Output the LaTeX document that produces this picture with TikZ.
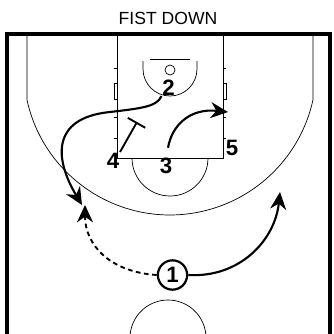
\documentclass[tikz,border=0pt]{standalone}
\usepackage{fontspec}
\setmainfont{Liberation Sans}
\usetikzlibrary{arrows.meta, positioning, calc}

\begin{document}
\begin{tikzpicture}[x=0.03cm, y=-0.03cm,
  >={Stealth[length=5.2mm, width=4.8mm, inset=1.7mm]},
  court/.style={line width=0.6pt},
  player/.style={font=\fontsize{19}{19}\selectfont\bfseries, inner sep=0.5pt},
  ballhandler/.style={player, circle, draw, fill=white, line width=1.9pt, minimum size=0.88cm},
  cut/.style={->, line width=1.8pt},
  pass/.style={->, line width=1.6pt, dash pattern=on 4pt off 3pt},
  screen/.style={-{Bar[width=6mm]}, line width=1.6pt}]
  \useasboundingbox (0,0) rectangle (333,334);
  % Title
  \node[font=\fontsize{15}{15}\selectfont] (title) at (168,18) {FIST DOWN};
  \begin{scope}
    \clip (0,0) rectangle (333,334);
    % Court boundary
    \draw[line width=2.8pt] (7,340) -- (7,34) -- (330,34) -- (330,340);
    % Three point line
    \draw[court] (27,34) -- (27,100) arc[start angle=167.6, end angle=12.4, radius=146.4] -- (313,34);
    % Lane and hash marks
    \draw[court] (117,34) -- (117,158) -- (223,158) -- (223,34);
    \foreach \y in {68,117,138}{
      \draw[court] (114,\y) -- (117,\y);
      \draw[court] (223,\y) -- (226,\y);
    }
    \draw[court] (114,83) rectangle (117,99);
    \draw[court] (223,83) rectangle (226,99);
    % Free throw circle
    \draw[court] (132,158) arc[start angle=180, end angle=0, radius=38];
    % Basket, backboard, restricted area
    \draw[court] (150,59) -- (190,59);
    \draw[court] (170,70) circle[radius=5];
    \draw[court] (143,61) -- (143,69) arc[start angle=180, end angle=0, radius=27] -- (197,61);
    % Center circle
    \draw[court] (168,338) circle[radius=38];
  \end{scope}
  % Players
  \node[player] (p2) at (168.5,87.5) {2};
  \node[player] (p4) at (113,160.5) {4};
  \node[player] (p3) at (166,165.5) {3};
  \node[player] (p5) at (232,147.5) {5};
  \node[ballhandler] (p1) at (172.5,275) {1};
  % End points
  \coordinate (c2) at (82,205);
  \coordinate (c3) at (228,112);
  \coordinate (s4) at (137,122);
  \coordinate (d1) at (280,192);
  \coordinate (r1) at (85,205);
  % Cuts
  \draw[cut] (p2.south west) .. controls (157,106) and (145,108) .. (110,112)
    .. controls (50,118) and (55,160) .. (c2);
  \draw[cut] ([shift={(2,-9)}]p3.north) .. controls (172,125) and (190,108) .. (c3);
  % Screen
  \draw[screen] (p4.north east) -- (s4);
  % Dribble and pass
  \draw[cut] (p1.east) .. controls (240,278) and (275,240) .. (d1);
  \draw[pass] (p1.west) .. controls (110,272) and (85,245) .. (r1);
\end{tikzpicture}
\end{document}
